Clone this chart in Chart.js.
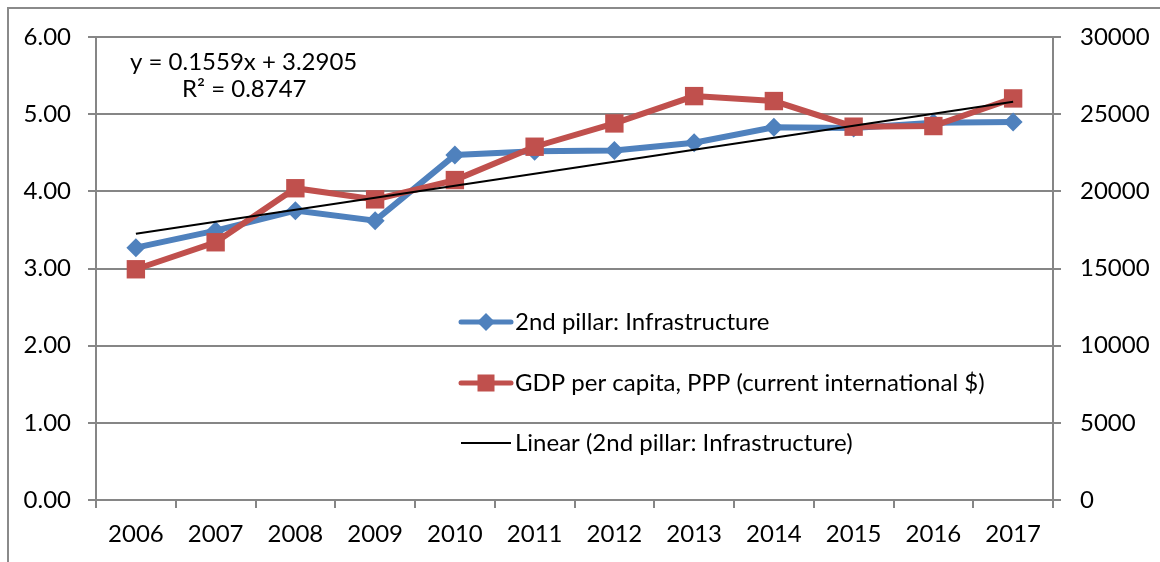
<!DOCTYPE html>
<html>
<head>
<meta charset="utf-8">
<script src="https://cdn.jsdelivr.net/npm/chart.js@4"></script>
<style>
  html, body { margin: 0; padding: 0; background: #fff; }
  canvas { display: block; }
</style>
</head>
<body>
<canvas id="chart" width="1160" height="562"></canvas>
<script>
// Infrastructure pillar score vs GDP per capita, 2006-2017

const years = ['2006', '2007', '2008', '2009', '2010', '2011', '2012', '2013', '2014', '2015', '2016', '2017']
const infrastructure = [3.27, 3.49, 3.75, 3.62, 4.47, 4.52, 4.53, 4.63, 4.83, 4.82, 4.89, 4.90]
const gdpPerCapita = [14950, 16700, 20200, 19480, 20730, 22890, 24400, 26170, 25850, 24190, 24230, 26020]
// linear trend of the infrastructure series, only its two ends
const trendEnds = [3.45, null, null, null, null, null, null, null, null, null, null, 5.16]
const trendLabel = ['y = 0.1559x + 3.2905', 'R² = 0.8747']

const seriesNames = [
    '2nd pillar: Infrastructure',
    'GDP per capita, PPP (current international $)',
    'Linear (2nd pillar: Infrastructure)'
]

const FONT = { family: 'Lato', size: 24 }
const GRID = '#868686'
const BLUE = '#4F81BD'
const RED = '#C0504D'

const framePlugin = {
    id: 'frame',
    beforeDraw(chart) {
        const ctx = chart.ctx
        ctx.save()
        ctx.strokeStyle = '#8a8a8a'
        ctx.lineWidth = 2
        ctx.beginPath()
        ctx.moveTo(8, chart.height)
        ctx.lineTo(8, 8)
        ctx.lineTo(chart.width, 8)
        ctx.stroke()
        ctx.restore()
    }
}

const notesPlugin = {
    id: 'notes',
    afterDraw(chart) {
        const ctx = chart.ctx
        ctx.save()
        ctx.font = FONT.size + 'px ' + FONT.family
        ctx.fillStyle = '#000'
        ctx.textBaseline = 'middle'
        ctx.textAlign = 'left'

        // trend line equation
        ctx.fillText(trendLabel[0], 130, 62)
        ctx.fillText(trendLabel[1], 182, 89)

        // legend inside the plot
        const rows = [322, 383, 443]
        const x0 = 461, x1 = 511, xm = (x0 + x1) / 2
        chart.data.datasets.forEach((ds, i) => {
            const y = rows[i]
            ctx.strokeStyle = ds.borderColor
            ctx.lineWidth = i == 2 ? 2 : 5
            ctx.lineCap = i == 2 ? 'butt' : 'round'
            ctx.beginPath()
            ctx.moveTo(x0, y)
            ctx.lineTo(x1, y)
            ctx.stroke()
            ctx.fillStyle = ds.backgroundColor
            if (i == 0) {
                ctx.beginPath()
                ctx.moveTo(xm, y - 9)
                ctx.lineTo(xm + 9, y)
                ctx.lineTo(xm, y + 9)
                ctx.lineTo(xm - 9, y)
                ctx.closePath()
                ctx.fill()
            } else if (i == 1) {
                ctx.fillRect(xm - 8.5, y - 8.5, 17, 17)
            }
            ctx.fillStyle = '#000'
            ctx.fillText(ds.label, 515, y)
        })
        ctx.restore()
    }
}

new Chart(document.getElementById('chart'), {
    type: 'line',
    data: {
        labels: years,
        datasets: [
            {
                label: seriesNames[0],
                data: infrastructure,
                yAxisID: 'y',
                borderColor: BLUE,
                backgroundColor: BLUE,
                borderWidth: 6,
                pointStyle: 'rectRot',
                pointRadius: 9.5,
                pointBorderWidth: 0,
                order: 3
            },
            {
                label: seriesNames[1],
                data: gdpPerCapita,
                yAxisID: 'y1',
                borderColor: RED,
                backgroundColor: RED,
                borderWidth: 6,
                pointStyle: 'rect',
                pointRadius: 13,
                pointBorderWidth: 0,
                order: 2
            },
            {
                label: seriesNames[2],
                data: trendEnds,
                yAxisID: 'y',
                borderColor: '#000',
                backgroundColor: '#000',
                borderWidth: 2,
                pointRadius: 0,
                spanGaps: true,
                order: 1
            }
        ]
    },
    options: {
        responsive: false,
        animation: false,
        layout: { padding: { top: 37, left: 0, right: 0, bottom: 0 } },
        plugins: {
            legend: { display: false },
            tooltip: { enabled: false }
        },
        scales: {
            x: {
                offset: true,
                grid: { offset: true, drawOnChartArea: false, drawTicks: true, tickLength: 8, color: GRID, lineWidth: 2 },
                border: { color: GRID, width: 2 },
                ticks: { font: FONT, color: '#000', padding: 12, maxRotation: 0 },
                afterFit(scale) { scale.height = 62 }
            },
            y: {
                position: 'left',
                min: 0,
                max: 6,
                grid: { color: GRID, lineWidth: 2, tickLength: 8 },
                border: { color: GRID, width: 2 },
                ticks: {
                    stepSize: 1,
                    font: FONT,
                    color: '#000',
                    padding: 17,
                    callback: v => v.toFixed(2)
                },
                afterFit(scale) { scale.width = 96 }
            },
            y1: {
                position: 'right',
                min: 0,
                max: 30000,
                grid: { drawOnChartArea: false, color: GRID, lineWidth: 2, tickLength: 8 },
                border: { color: GRID, width: 2 },
                ticks: { stepSize: 5000, font: FONT, color: '#000', padding: 19, callback: v => String(v) },
                afterFit(scale) { scale.width = 107 }
            }
        }
    },
    plugins: [framePlugin, notesPlugin]
})
</script>
</body>
</html>
